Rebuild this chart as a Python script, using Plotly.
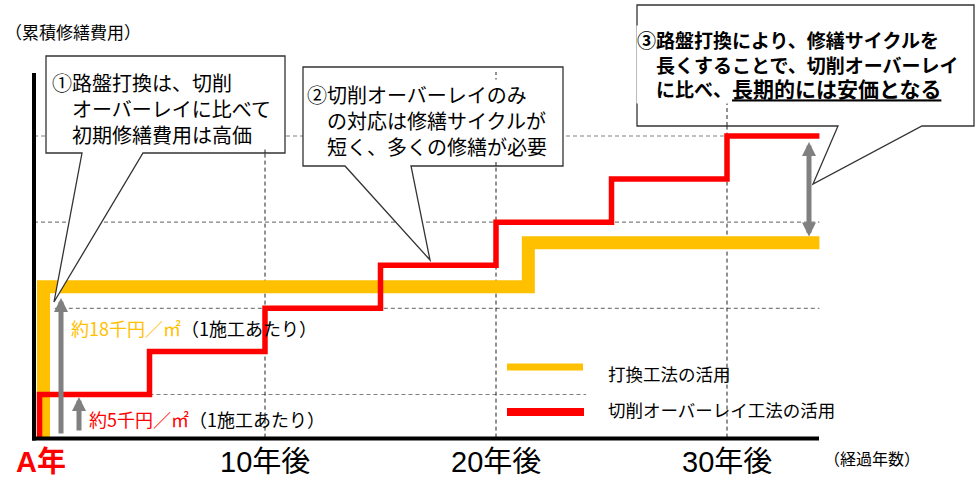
import plotly.graph_objects as go

W, H = 976, 478
FONT = "Noto Sans CJK JP"
LATIN_FONT = "Liberation Sans, Arial, Noto Sans CJK JP"

# ---------------- data ----------------
# 切削オーバーレイ: cumulative cost (千円/㎡) vs elapsed years
years_overlay = [0.24, 0.24, 5, 10, 15, 20, 25, 30, 34]
cost_overlay = [0, 5, 10, 15, 20, 25, 30, 35, 35]
# 路盤打換: cumulative cost
years_replace = [0.41, 0.41, 21.4, 34]
cost_replace = [0, 17.5, 22.6, 22.6]

series_names = ["打換工法の活用", "切削オーバーレイ工法の活用"]
series_colors = ["#FFC000", "#FF0000"]

tick_years = [10, 20, 30]
tick_labels = ["10年後", "20年後", "30年後"]

# dashed guide levels (cost) and their extents (years)
guide_levels = [35, 25, 15, 5]
guide_from = [0, 0, 0.9, 5]
guide_to = [30, 34, 34, 23.9]

# ---------------- pixel <-> data helpers ----------------
X0, KX = 34.0, 23.1      # pixel x of year 0, pixels per year
Y0, KY = 437.6, 8.617    # pixel y of cost 0, pixels per cost unit
x_range = [-X0 / KX, (W - X0) / KX]
y_range = [-(H - Y0) / KY, Y0 / KY]


def xp(p):
    return p / W


def yp(p):
    return 1 - p / H


def xv(p):
    return (p - X0) / KX


def yv(p):
    return (Y0 - p) / KY


fig = go.Figure()
fig.add_trace(go.Scatter(
    x=years_replace, y=cost_replace, mode="lines", name=series_names[0],
    line=dict(color=series_colors[0], width=13, shape="hv"),
    hoverinfo="skip", showlegend=False))
fig.add_trace(go.Scatter(
    x=years_overlay, y=cost_overlay, mode="lines", name=series_names[1],
    line=dict(color=series_colors[1], width=5.5, shape="hv"),
    hoverinfo="skip", showlegend=False))

shapes = []
# horizontal dashed guides
for lv, a, b in zip(guide_levels, guide_from, guide_to):
    shapes.append(dict(type="line", xref="x", yref="y", x0=a, x1=b, y0=lv, y1=lv,
                       line=dict(color="#808080", width=1.2, dash="4px,3px"), layer="below"))
# vertical dashed guides
for t in tick_years:
    shapes.append(dict(type="line", xref="x", yref="y", x0=t, x1=t, y0=0, y1=yv(72),
                       line=dict(color="#222222", width=1, dash="4px,3px"), layer="below"))
# axes
shapes.append(dict(type="line", xref="paper", yref="paper", x0=xp(34), x1=xp(34),
                   y0=yp(73), y1=yp(440.5), line=dict(color="black", width=4), layer="above"))
shapes.append(dict(type="line", xref="paper", yref="paper", x0=xp(32), x1=xp(819),
                   y0=yp(438.5), y1=yp(438.5), line=dict(color="black", width=4), layer="above"))

# callout boxes: (left, top, right, bottom, base1, base2, tipx, tipy) in pixels
callouts = [
    (46, 56, 285, 153, 82, 143, 54, 302),
    (303, 67, 563, 166, 345, 411, 430, 260),
    (637, 5, 974, 126, 838, 922, 813, 184),
]
for L, T, R, B, b1, b2, tx, ty in callouts:
    path = (f"M{xp(L)},{yp(T)} L{xp(R)},{yp(T)} L{xp(R)},{yp(B)} L{xp(b2)},{yp(B)} "
            f"L{xp(tx)},{yp(ty)} L{xp(b1)},{yp(B)} L{xp(L)},{yp(B)} Z")
    shapes.append(dict(type="path", xref="paper", yref="paper", path=path,
                       fillcolor="white", line=dict(color="#333333", width=1.3), layer="above"))
# vertical guides visible over callout boxes (text blocks mask them)
for t, bottom in zip(tick_years, [153, 166, 126]):
    shapes.append(dict(type="line", xref="x", yref="y", x0=t, x1=t, y0=yv(bottom), y1=yv(72),
                       line=dict(color="#222222", width=1, dash="4px,3px"), layer="above"))

# legend samples
shapes.append(dict(type="line", xref="paper", yref="paper", x0=xp(507), x1=xp(583),
                   y0=yp(367), y1=yp(367), line=dict(color=series_colors[0], width=7), layer="above"))
shapes.append(dict(type="line", xref="paper", yref="paper", x0=xp(507), x1=xp(584),
                   y0=yp(412), y1=yp(412), line=dict(color=series_colors[1], width=8), layer="above"))

ann = []


def text(t, x, y, size, color="black", anchor="left", bold=False, bg=None, family=FONT,
         xref="paper", yanchor="middle"):
    d = dict(text=f"<b>{t}</b>" if bold else t, x=x, y=y, xref=xref, yref="paper",
             xanchor=anchor, yanchor=yanchor, showarrow=False, align="left",
             font=dict(family=family, size=size, color=color))
    if bg:
        d["bgcolor"] = bg
        d["borderpad"] = 0
    ann.append(d)


# axis titles
text("（累積修繕費用）", xp(3), yp(32), 17)
text("（経過年数）", xp(822), yp(458), 16)
# x tick labels
for t, lab in zip(tick_years, tick_labels):
    text(lab, t, yp(462), 29, anchor="center", family=LATIN_FONT, xref="x")
text("A年", xp(41), yp(462), 29, color="#FF0000", anchor="center", bold=True, family=LATIN_FONT)

# unit cost labels
text(f"<span style='color:{series_colors[0]}'>約18千円／㎡</span>（1施工あたり）", xp(69), yp(328), 18)
text(f"<span style='color:{series_colors[1]}'>約5千円／㎡</span>（1施工あたり）", xp(87), yp(419), 18)

# legend labels
text(series_names[0], xp(606), yp(373), 17.5)
text(series_names[1], xp(606), yp(409), 17.5)

# callout texts (one block per box)
box_texts = [
    ("①路盤打換は、切削<br>　オーバーレイに比べて<br>　初期修繕費用は高価", 51, 108, 20, False),
    ("②切削オーバーレイのみ<br>　の対応は修繕サイクルが<br>　短く、多くの修繕が必要", 306, 121, 20, False),
    ("③路盤打換により、修繕サイクルを<br>　長くすることで、切削オーバーレイ<br>"
     "　に比べ、<u><span style='font-size:21px'>長期的には安価となる</span></u>", 636, 64, 19, True),
]
for t, x, y, s, b in box_texts:
    text(t, xp(x), yp(y), s, bold=b, bg="white")

# gray arrows
arrow_common = dict(xref="x", yref="y", axref="x", ayref="y", text="", showarrow=True,
                    arrowhead=2, arrowsize=0.56, arrowwidth=5, arrowcolor="#808080",
                    standoff=0, startstandoff=0)
ann.append(dict(x=xv(61), y=yv(298), ax=xv(61), ay=yv(435), **arrow_common))
ann.append(dict(x=xv(79), y=yv(397), ax=xv(79), ay=yv(432), **arrow_common))
ann.append(dict(x=xv(809), y=yv(142), ax=xv(809), ay=yv(238), arrowside="end+start",
                startarrowhead=2, startarrowsize=0.56, **arrow_common))

fig.update_layout(
    width=W, height=H, margin=dict(l=0, r=0, t=0, b=0),
    paper_bgcolor="white", plot_bgcolor="white",
    xaxis=dict(range=x_range, visible=False, fixedrange=True),
    yaxis=dict(range=y_range, visible=False, fixedrange=True),
    showlegend=False, shapes=shapes, annotations=ann,
)
fig.write_html("out.html", config={"displayModeBar": False},
               post_script="document.body.style.margin='0';document.body.style.padding='0';")
